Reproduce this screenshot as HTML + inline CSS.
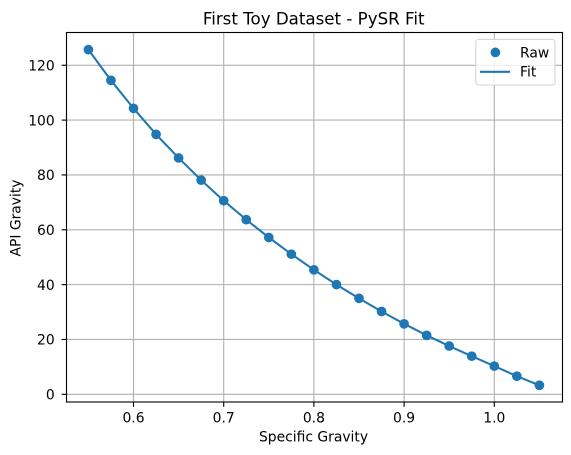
<!DOCTYPE html>
<html>
<head>
<meta charset="utf-8">
<style>
html,body{margin:0;padding:0;background:#fff;width:571px;height:455px;overflow:hidden}
svg{display:block}
text{font-family:"DejaVu Sans",sans-serif;fill:#000}
</style>
</head>
<body>
<svg id="chart" xmlns="http://www.w3.org/2000/svg" width="571" height="455" viewBox="0 0 571 455"></svg>
<script>
const gravityValues = [0.55,0.575,0.6,0.625,0.65,0.675,0.7,0.725,0.75,0.775,0.8,0.825,0.85,0.875,0.9,0.925,0.95,0.975,1.0,1.025,1.05];
const rawValues = [125.7,114.5,104.3,94.8,86.2,78.1,70.6,63.7,57.2,51.1,45.4,40.0,35.0,30.2,25.7,21.5,17.6,13.9,10.3,6.6,3.3];
const fitValues = [125.7,114.5,104.3,94.8,86.2,78.1,70.6,63.7,57.2,51.1,45.4,40.0,35.0,30.2,25.7,21.5,17.6,13.9,10.3,6.6,3.3];
const xTickValues = [0.6,0.7,0.8,0.9,1.0];
const yTickValues = [0,20,40,60,80,100,120];
const chartTitle = "First Toy Dataset - PySR Fit";
const xAxisTitle = "Specific Gravity";
const yAxisTitle = "API Gravity";

const NS = "http://www.w3.org/2000/svg";
const svg = document.getElementById("chart");
const box = {left:66.5,right:562.5,top:32.5,bottom:402};
function xPos(v){return 133.5+(v-0.6)*902;}
function yPos(v){return 394.3-v*2.742;}
function add(tag,attrs,parent,text){
  const el=document.createElementNS(NS,tag);
  for(const k in attrs)el.setAttribute(k,attrs[k]);
  if(text!==undefined)el.textContent=text;
  (parent||svg).appendChild(el);
  return el;
}
const BLUE="#1f77b4";

const grid=add("g",{});


xTickValues.forEach(v=>{
  const l=add("line",{x1:xPos(v),x2:xPos(v),y1:box.top,y2:box.bottom,stroke:"#b0b0b0","stroke-width":1.11},grid);
  
  
});
yTickValues.forEach(v=>{
  const l=add("line",{x1:box.left,x2:box.right,y1:yPos(v),y2:yPos(v),stroke:"#b0b0b0","stroke-width":1.11},grid);
  
  
});

const rawGroup=add("g",{});


rawValues.forEach((v,i)=>{
  const c=add("circle",{cx:xPos(gravityValues[i]),cy:yPos(v),r:4.86,fill:BLUE},rawGroup);
  
  
});
const fitLine=add("polyline",{points:fitValues.map((v,i)=>xPos(gravityValues[i]).toFixed(2)+","+yPos(v).toFixed(2)).join(" "),fill:"none",stroke:BLUE,"stroke-width":2.08,"stroke-linejoin":"round"});



const frame=add("rect",{x:box.left,y:box.top,width:box.right-box.left,height:box.bottom-box.top,fill:"none",stroke:"#000","stroke-width":1.11});



const xAxis=add("g",{});


xTickValues.forEach(v=>{
  const t=add("line",{x1:xPos(v),x2:xPos(v),y1:box.bottom,y2:box.bottom+4.86,stroke:"#000","stroke-width":1.11},xAxis);
  
  
  const s=add("text",{x:xPos(v),y:422.5,"text-anchor":"middle","font-size":13.89},xAxis,v.toFixed(1));
  
  
});
const yAxis=add("g",{});


yTickValues.forEach(v=>{
  const t=add("line",{x1:box.left,x2:box.left-4.86,y1:yPos(v),y2:yPos(v),stroke:"#000","stroke-width":1.11},yAxis);
  
  
  const s=add("text",{x:54.7,y:yPos(v)+5.2,"text-anchor":"end","font-size":13.89},yAxis,String(v));
  
  
});

const titleEl=add("text",{x:313.7,y:24.5,"text-anchor":"middle","font-size":16.67},svg,chartTitle);


const xTitleEl=add("text",{x:313.5,y:441.5,"text-anchor":"middle","font-size":13.89},svg,xAxisTitle);


const yTitleEl=add("text",{x:0,y:0,transform:"translate(20.3,218) rotate(-90)","text-anchor":"middle","font-size":13.89},svg,yAxisTitle);



const legend=add("g",{});


const legendBox=add("rect",{x:475.8,y:39.4,width:79.2,height:45.6,rx:2.8,ry:2.8,fill:"#fff","fill-opacity":0.8,stroke:"#cccccc","stroke-opacity":0.8,"stroke-width":1.11},legend);


const rawKey=add("circle",{cx:495.4,cy:52.4,r:4.86,fill:BLUE},legend);


const rawLabel=add("text",{x:520,y:57.3,"font-size":13.89},legend,"Raw");


const fitKey=add("line",{x1:480,x2:510,y1:71.8,y2:71.8,stroke:BLUE,"stroke-width":2.08},legend);


const fitLabel=add("text",{x:520,y:76.6,"font-size":13.89},legend,"Fit");


</script>
</body>
</html>
